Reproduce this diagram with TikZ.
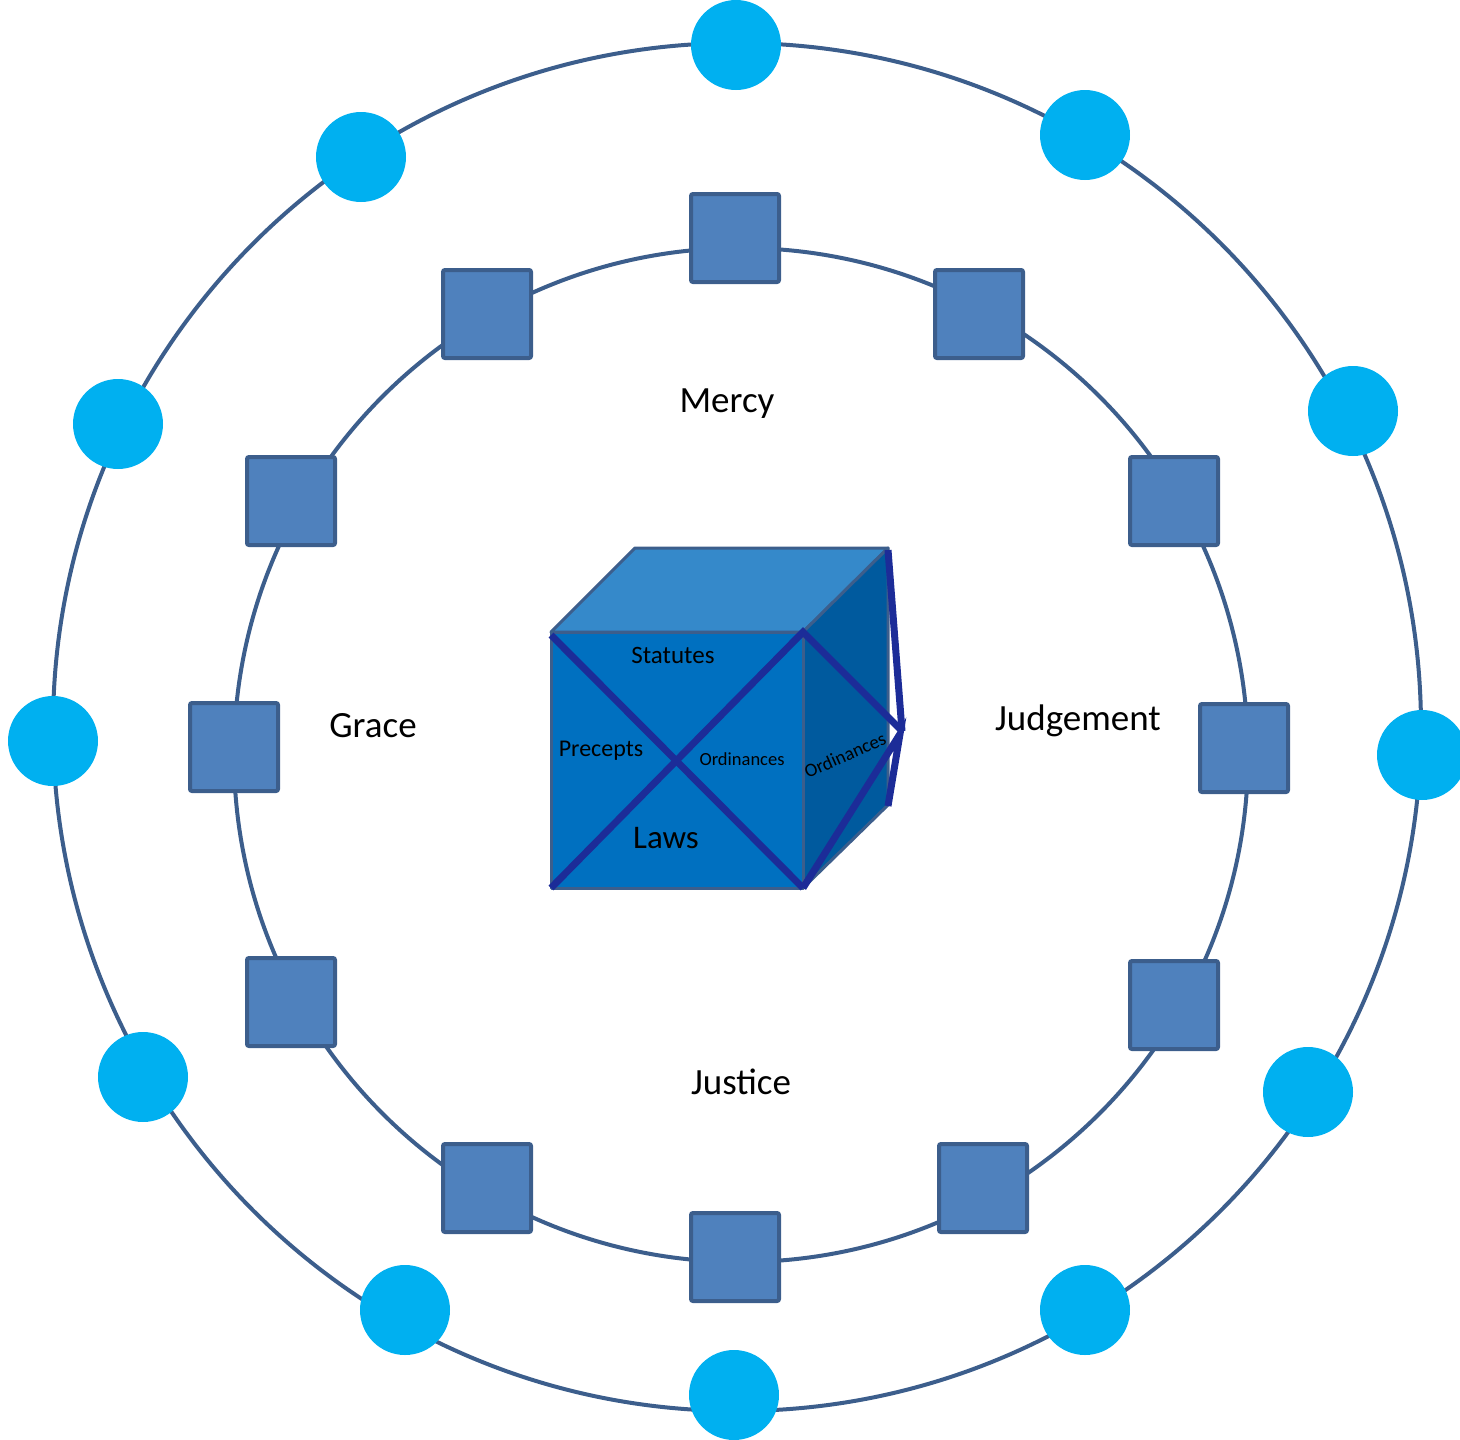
\documentclass[tikz,border=0pt]{standalone}
\usepackage{fontspec}
\setmainfont{Carlito}
\definecolor{ringblue}{RGB}{60,94,140}
\definecolor{boxblue}{RGB}{79,129,189}
\definecolor{dotblue}{RGB}{0,176,240}
\definecolor{frontblue}{RGB}{0,112,192}
\definecolor{topblue}{RGB}{53,137,202}
\definecolor{sideblue}{RGB}{0,90,158}
\definecolor{navyline}{RGB}{28,44,152}
\usetikzlibrary{positioning}

\begin{document}
\begin{tikzpicture}[x=1pt, y=-1pt,
  ring/.style={draw=ringblue, line width=4pt},
  dot/.style={circle, fill=dotblue, minimum size=90pt, inner sep=0pt},
  squarebox/.style={rectangle, draw=ringblue, line width=4pt, fill=boxblue, rounded corners=2pt, minimum size=88pt, inner sep=0pt},
  face/.style={draw=ringblue, line width=3pt, line join=round},
  cross/.style={draw=navyline, line width=7pt},
  biglabel/.style={font=\fontsize{37}{44}\selectfont},
  cubelabel/.style={font=\fontsize{25}{30}\selectfont}]
  \useasboundingbox (0,0) rectangle (1460,1440);

  % Rings
  \draw[ring] (737,727) circle[radius=684];
  \draw[ring] (741,755) circle[radius=507];

  % Squares on the inner ring
  \foreach \i/\x/\y in {1/735/238, 2/979/314, 3/1174/501, 4/1244/748, 5/1174/1005, 6/983/1188,
                        7/735/1257, 8/487/1188, 9/291/1002, 10/234/747, 11/291/501, 12/487/314}
    \node[squarebox] (sq\i) at (\x,\y) {};

  % Dots on the outer ring
  \foreach \i/\x/\y in {1/736/45, 2/1085/135, 3/1353/411, 4/1422/755, 5/1308/1092, 6/1085/1310,
                        7/734/1395, 8/405/1310, 9/143/1077, 10/53/741, 11/118/424, 12/361/157}
    \node[dot] (dot\i) at (\x,\y) {};

  % Labels
  \node[biglabel] (mercy) at (727,404) {Mercy};
  \node[biglabel] (grace) at (373,726) {Grace};
  \node[biglabel] (judgement) at (1078,721) {Judgement};
  \node[biglabel] (justice) at (741,1082) {Justice};

  % Cube
  \coordinate (ftl) at (551,632);
  \coordinate (ftr) at (803,632);
  \coordinate (fbl) at (551,888);
  \coordinate (fbr) at (803,888);
  \coordinate (btl) at (635,548);
  \coordinate (btr) at (888,548);
  \coordinate (bbr) at (888,805);
  \filldraw[face, fill=topblue] (ftl) -- (btl) -- (btr) -- (ftr) -- cycle;
  \filldraw[face, fill=sideblue] (ftr) -- (btr) -- (bbr) -- (fbr) -- cycle;
  \filldraw[face, fill=frontblue] (ftl) -- (ftr) -- (fbr) -- (fbl) -- cycle;

  % Cross lines
  \coordinate (tip) at (902,731);
  \draw[cross] (551,635) -- (fbr);
  \draw[cross] (fbl) -- (ftr) -- (tip);
  \draw[cross] (888,550) -- (tip);
  \draw[cross] (fbr) -- (900,734) -- (888,806);

  \node[cubelabel] (statutes) at (673,655) {Statutes};
  \node[cubelabel, font=\fontsize{24}{28}\selectfont] (precepts) at (601,751) {Precepts};
  \node[font=\fontsize{18.5}{22}\selectfont] (ordfront) at (742,759) {Ordinances};
  \node[font=\fontsize{33}{40}\selectfont] (laws) at (666,838) {Laws};
  \node[font=\fontsize{19}{22}\selectfont, rotate=24] (ordside) at (845,755) {Ordinances};
\end{tikzpicture}
\end{document}
